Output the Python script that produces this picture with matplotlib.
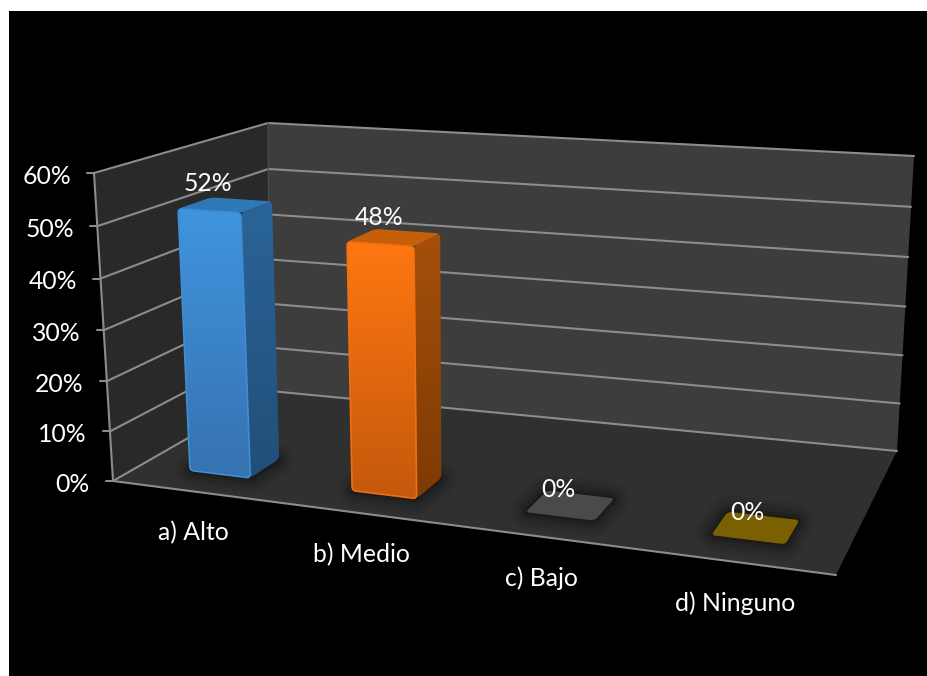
import numpy as np
import matplotlib
matplotlib.use("Agg")
import matplotlib.pyplot as plt
from matplotlib.patches import Polygon, Rectangle, PathPatch
from matplotlib.path import Path
from matplotlib.colors import to_rgb

categories = ["a) Alto", "b) Medio", "c) Bajo", "d) Ninguno"]
values = [52, 48, 0, 0]
value_labels = ["52%", "48%", "0%", "0%"]
yticks = [0, 10, 20, 30, 40, 50, 60]
ytick_labels = ["0%", "10%", "20%", "30%", "40%", "50%", "60%"]
front_top = ["#4094DE", "#FF7711", "#4A4A4A", "#7A6000"]
front_bottom = ["#3672B0", "#C4590C", "#4A4A4A", "#7A6000"]
side_top = ["#2A6498", "#A5500A", "#4A4A4A", "#7A6000"]
side_bottom = ["#214F78", "#7E3A04", "#4A4A4A", "#7A6000"]
top_colors = ["#2F78B8", "#C75F0A", "#4A4A4A", "#7A6000"]
edge_colors = ["#3F8DD4", "#F0700F", "#4A4A4A", "#7A6000"]

W, H = 928, 676
plt.rcParams["font.family"] = ["Lato", "DejaVu Sans"]
fig = plt.figure(figsize=(W / 100, H / 100), dpi=100, facecolor="white")
ax = fig.add_axes([0, 0, 1, 1])
ax.axis("off")

# Perspective camera fitted to the chart box corners: (category, depth, value) -> pixels
world = np.array([[0, 0, 0], [0, 0, 60], [0, 1, 0], [0, 1, 60], [4, 1, 0], [4, 1, 60], [4, 0, 0]], float)
screen = np.array([[113, 481], [94, 173], [270, 391], [268, 123], [897, 451], [914, 156], [836, 575]], float)
A, b = [], []
for (X, Y, Z), (u, v) in zip(world, screen):
    A.append([X, Y, Z, 1, 0, 0, 0, 0, -u * X, -u * Y, -u * Z]); b.append(u)
    A.append([0, 0, 0, 0, X, Y, Z, 1, -v * X, -v * Y, -v * Z]); b.append(v)
p = np.linalg.lstsq(np.array(A), np.array(b), rcond=None)[0]
P = np.append(p, 1).reshape(3, 4)


def camera(x, d, z):
    q = P @ np.array([x, d, z, 1.0])
    return q[:2] / q[2]


residuals = [(w, s - camera(*w)) for w, s in zip(world, screen)]


def proj(x, d, z):
    """Camera plus a small trilinear correction so the box corners land exactly."""
    out = camera(x, d, z).copy()
    for (wx, wd, wz), r in residuals:
        fx = x / 4 if wx else 1 - x / 4
        fd = d if wd else 1 - d
        fz = z / 60 if wz else 1 - z / 60
        out += fx * fd * fz * r
    return out


def face(pts, **kw):
    ax.add_patch(Polygon([proj(*c) for c in pts], closed=True, **kw))


def rounded(pts, r=4.0):
    pts = [np.asarray(proj(*c)) for c in pts]
    n = len(pts)
    verts, codes = [], []
    for k in range(n):
        c, prev, nxt = pts[k], pts[k - 1], pts[(k + 1) % n]
        a = c + (prev - c) / np.linalg.norm(prev - c) * r
        e = c + (nxt - c) / np.linalg.norm(nxt - c) * r
        verts += [a, c, e]
        codes += [Path.MOVETO if k == 0 else Path.LINETO, Path.CURVE3, Path.CURVE3]
    verts.append(verts[0])
    codes.append(Path.CLOSEPOLY)
    return Path(verts, codes)


def gradient_face(pts, c_top, c_bottom, zorder, edge=None):
    path = rounded(pts)
    patch = PathPatch(path, fc="none", ec=edge if edge else "none", lw=1.2, zorder=zorder + 0.01)
    ax.add_patch(patch)
    ext = path.get_extents()
    g = np.linspace(0, 1, 128)[:, None, None]
    grad = (1 - g) * np.array(to_rgb(c_top))[None, None, :] + g * np.array(to_rgb(c_bottom))[None, None, :]
    im = ax.imshow(grad, extent=[ext.x0, ext.x1, ext.y1, ext.y0], aspect="auto", zorder=zorder, origin="upper")
    im.set_clip_path(patch)


ax.add_patch(Rectangle((9, 11), W - 9, H - 11, fc="black", ec="none", zorder=0))
face([(0, 0, 0), (0, 1, 0), (0, 1, 60), (0, 0, 60)], fc="#292929", ec="none", zorder=1)
face([(0, 1, 0), (4, 1, 0), (4, 1, 60), (0, 1, 60)], fc="#3D3D3D", ec="none", zorder=1)
face([(0, 0, 0), (4, 0, 0), (4, 1, 0), (0, 1, 0)], fc="#303030", ec="none", zorder=1)

line = dict(color="#8C8C8C", lw=1.5, zorder=2, solid_capstyle="round")
for t, lab in zip(yticks, ytick_labels):
    a, b_, c = proj(0, 0, t), proj(0, 1, t), proj(4, 1, t)
    ax.plot([a[0], b_[0], c[0]], [a[1], b_[1], c[1]], **line)
    ax.plot([a[0] - 7, a[0]], [a[1], a[1]], **line)
    ax.text(a[0] - 23, a[1] + 3, lab, color="white", fontsize=17.8, ha="right", va="center", zorder=6)
e0, e1, e2 = proj(0, 0, 0), proj(0, 0, 60), proj(4, 0, 0)
ax.plot([e0[0], e1[0]], [e0[1], e1[1]], **line)
ax.plot([e0[0], e2[0]], [e0[1], e2[1]], **line)
b0, b1 = proj(0, 1, 0), proj(0, 1, 60)
ax.plot([b0[0], b1[0]], [b0[1], b1[1]], color="#4A4A4A", lw=1, zorder=2)

x0, x1, d0, d1 = 0.31, 0.69, 0.16, 0.345

for i, val in enumerate(values):
    xl, xr = i + x0, i + x1
    base = rounded([(xl, d0, 0), (xr, d0, 0), (xr, d1, 0), (xl, d1, 0)])
    for lw, alpha in ((24, 0.05), (18, 0.07), (12, 0.09), (7, 0.12), (3, 0.15)):
        ax.add_patch(PathPatch(base, fc="black", ec="black", lw=lw, alpha=alpha, joinstyle="round", zorder=3))
    if val > 0:
        gradient_face([(xr, d0, 0), (xr, d1, 0), (xr, d1, val), (xr, d0, val)], side_top[i], side_bottom[i], 4)
        ax.add_patch(PathPatch(rounded([(xl, d0, val), (xr, d0, val), (xr, d1, val), (xl, d1, val)]),
                               fc=top_colors[i], ec="none", zorder=4.2))
        gradient_face([(xl, d0, 0), (xr, d0, 0), (xr, d0, val), (xl, d0, val)], front_top[i], front_bottom[i], 4.4,
                      edge=edge_colors[i])
    else:
        ax.add_patch(PathPatch(base, fc=front_top[i], ec="none", zorder=4))
    lx, ly = proj(i + (x0 + x1) / 2, d0, val)
    ax.text(lx - 1, ly - 27, value_labels[i], color="white", fontsize=17.8, ha="center", va="center", zorder=7)
    tx, ty = proj(i + 0.5, 0, 0)
    ax.text(tx + 1, ty + 41, categories[i], color="white", fontsize=17.8, ha="center", va="center", zorder=7)

ax.set_xlim(0, W)
ax.set_ylim(H, 0)
fig.savefig("out.png", dpi=100, facecolor="white")
